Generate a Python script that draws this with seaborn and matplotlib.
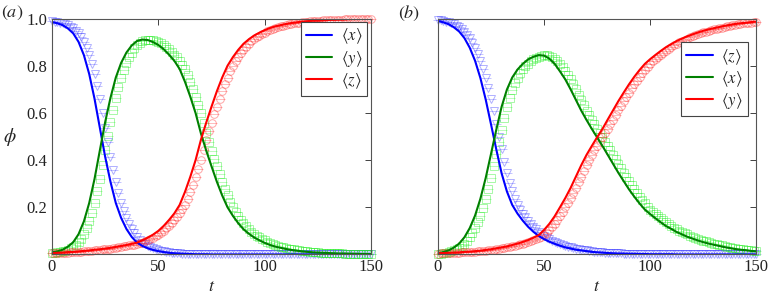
import numpy as np
import matplotlib
matplotlib.use("Agg")
import matplotlib.pyplot as plt
import seaborn as sns

# time grids: model curves every 2.5, simulation points every 1.25
t = np.arange(0, 150.01, 2.5)
t_sim = np.arange(0, 150.01, 1.25)

# ---------- panel (a): model curves ----------
blue_a_line = [0.985, 0.980, 0.972, 0.958, 0.937, 0.901, 0.845, 0.765, 0.660, 0.537,
               0.414, 0.308, 0.218, 0.155, 0.108, 0.074, 0.050, 0.036, 0.026, 0.019,
               0.014, 0.010, 0.007, 0.005, 0.004, 0.003, 0.002, 0.001, 0.001, 0.001,
               0.0, 0.0, 0.0, 0.0, 0.0, 0.0, 0.0, 0.0, 0.0, 0.0,
               0.0, 0.0, 0.0, 0.0, 0.0, 0.0, 0.0, 0.0, 0.0, 0.0,
               0.0, 0.0, 0.0, 0.0, 0.0, 0.0, 0.0, 0.0, 0.0, 0.0, 0.0]
green_a_line = [0.009, 0.013, 0.020, 0.033, 0.052, 0.086, 0.140, 0.218, 0.320, 0.441,
                0.561, 0.664, 0.750, 0.812, 0.856, 0.886, 0.905, 0.911, 0.909, 0.900,
                0.888, 0.870, 0.847, 0.821, 0.786, 0.732, 0.669, 0.599, 0.513, 0.440,
                0.373, 0.308, 0.250, 0.200, 0.164, 0.133, 0.107, 0.088, 0.072, 0.060,
                0.049, 0.040, 0.033, 0.028, 0.023, 0.019, 0.016, 0.013, 0.011, 0.009,
                0.008, 0.007, 0.006, 0.005, 0.004, 0.004, 0.003, 0.003, 0.002, 0.002, 0.001]
red_a_line = [0.006, 0.007, 0.008, 0.010, 0.011, 0.013, 0.015, 0.017, 0.020, 0.022,
              0.025, 0.028, 0.032, 0.036, 0.040, 0.045, 0.050, 0.060, 0.071, 0.084,
              0.100, 0.121, 0.146, 0.174, 0.210, 0.265, 0.329, 0.400, 0.486, 0.559,
              0.627, 0.692, 0.750, 0.800, 0.836, 0.867, 0.893, 0.912, 0.928, 0.940,
              0.951, 0.960, 0.967, 0.972, 0.977, 0.981, 0.984, 0.987, 0.989, 0.991,
              0.992, 0.993, 0.994, 0.995, 0.996, 0.996, 0.997, 0.997, 0.998, 0.998, 0.999]

# ---------- panel (a): simulation points ----------
blue_a_sim = [0.988, 0.987, 0.985, 0.983, 0.980, 0.976, 0.972, 0.966, 0.958, 0.949,
              0.937, 0.921, 0.901, 0.876, 0.845, 0.808, 0.765, 0.715, 0.660, 0.600,
              0.537, 0.475, 0.414, 0.358, 0.308, 0.261, 0.218, 0.184, 0.155, 0.130,
              0.108, 0.090, 0.074, 0.061, 0.050, 0.043, 0.036, 0.031, 0.026, 0.022,
              0.019, 0.016, 0.014, 0.012, 0.010, 0.008, 0.007, 0.006, 0.005, 0.004,
              0.004, 0.003, 0.003, 0.002, 0.002, 0.002, 0.001, 0.001, 0.001, 0.001,
              0.001, 0.001, 0.0, 0.0, 0.0, 0.0, 0.0, 0.0, 0.0, 0.0,
              0.0, 0.0, 0.0, 0.0, 0.0, 0.0, 0.0, 0.0, 0.0, 0.0,
              0.0, 0.0, 0.0, 0.0, 0.0, 0.0, 0.0, 0.0, 0.0, 0.0,
              0.0, 0.0, 0.0, 0.0, 0.0, 0.0, 0.0, 0.0, 0.0, 0.0,
              0.0, 0.0, 0.0, 0.0, 0.0, 0.0, 0.0, 0.0, 0.0, 0.0,
              0.0, 0.0, 0.0, 0.0, 0.0, 0.0, 0.0, 0.0, 0.0, 0.0, 0.0]
green_a_sim = [0.006, 0.007, 0.009, 0.011, 0.013, 0.016, 0.020, 0.026, 0.033, 0.041,
               0.052, 0.067, 0.086, 0.110, 0.140, 0.177, 0.218, 0.267, 0.320, 0.380,
               0.441, 0.502, 0.561, 0.614, 0.664, 0.709, 0.750, 0.783, 0.812, 0.836,
               0.856, 0.873, 0.886, 0.897, 0.905, 0.909, 0.911, 0.911, 0.909, 0.905,
               0.900, 0.895, 0.888, 0.880, 0.870, 0.859, 0.847, 0.835, 0.821, 0.805,
               0.786, 0.761, 0.732, 0.702, 0.669, 0.635, 0.599, 0.556, 0.513, 0.476,
               0.440, 0.406, 0.373, 0.340, 0.308, 0.278, 0.250, 0.224, 0.200, 0.181,
               0.164, 0.148, 0.133, 0.119, 0.107, 0.097, 0.088, 0.080, 0.072, 0.066,
               0.060, 0.054, 0.049, 0.044, 0.040, 0.036, 0.033, 0.030, 0.028, 0.025,
               0.023, 0.021, 0.019, 0.017, 0.016, 0.014, 0.013, 0.012, 0.011, 0.010,
               0.009, 0.008, 0.008, 0.007, 0.007, 0.006, 0.006, 0.005, 0.005, 0.005,
               0.004, 0.004, 0.004, 0.003, 0.003, 0.003, 0.003, 0.002, 0.002, 0.002, 0.002]
red_a_sim = [0.005, 0.0055, 0.006, 0.0065, 0.007, 0.0075, 0.008, 0.009, 0.010, 0.0105,
             0.011, 0.012, 0.013, 0.014, 0.015, 0.016, 0.017, 0.018, 0.020, 0.021,
             0.022, 0.023, 0.025, 0.026, 0.028, 0.030, 0.032, 0.034, 0.036, 0.038,
             0.040, 0.042, 0.045, 0.047, 0.050, 0.055, 0.060, 0.065, 0.071, 0.077,
             0.084, 0.092, 0.100, 0.110, 0.121, 0.133, 0.146, 0.159, 0.174, 0.191,
             0.210, 0.236, 0.265, 0.296, 0.329, 0.364, 0.400, 0.443, 0.486, 0.523,
             0.559, 0.594, 0.627, 0.660, 0.692, 0.722, 0.750, 0.776, 0.800, 0.819,
             0.836, 0.852, 0.867, 0.880, 0.893, 0.903, 0.912, 0.920, 0.928, 0.934,
             0.940, 0.946, 0.951, 0.956, 0.960, 0.964, 0.967, 0.970, 0.972, 0.975,
             0.977, 0.979, 0.981, 0.983, 0.984, 0.986, 0.987, 0.988, 0.989, 0.990,
             0.991, 0.991, 0.992, 0.992, 0.993, 0.993, 0.994, 0.994, 0.995, 0.995,
             0.996, 0.996, 0.996, 0.996, 0.997, 0.997, 0.997, 0.997, 0.998, 0.998, 0.998]

# ---------- panel (b): model curves ----------
blue_b_line = [0.990, 0.984, 0.976, 0.963, 0.945, 0.917, 0.876, 0.821, 0.748, 0.657,
               0.552, 0.445, 0.344, 0.267, 0.210, 0.173, 0.143, 0.117, 0.096, 0.078,
               0.065, 0.054, 0.045, 0.037, 0.030, 0.025, 0.020, 0.017, 0.014, 0.011,
               0.009, 0.008, 0.006, 0.005, 0.004, 0.004, 0.003, 0.003, 0.002, 0.002,
               0.001, 0.001, 0.001, 0.001, 0.001, 0.0, 0.0, 0.0, 0.0, 0.0,
               0.0, 0.0, 0.0, 0.0, 0.0, 0.0, 0.0, 0.0, 0.0, 0.0, 0.0]
green_b_line = [0.005, 0.010, 0.017, 0.029, 0.046, 0.073, 0.112, 0.165, 0.236, 0.324,
                0.426, 0.529, 0.626, 0.699, 0.750, 0.784, 0.808, 0.827, 0.838, 0.845,
                0.843, 0.830, 0.808, 0.776, 0.742, 0.700, 0.655, 0.610, 0.570, 0.532,
                0.496, 0.460, 0.422, 0.384, 0.346, 0.311, 0.276, 0.245, 0.216, 0.190,
                0.171, 0.153, 0.136, 0.120, 0.108, 0.095, 0.085, 0.075, 0.067, 0.059,
                0.052, 0.046, 0.041, 0.036, 0.031, 0.027, 0.023, 0.020, 0.018, 0.015, 0.013]
red_b_line = [0.005, 0.006, 0.007, 0.008, 0.009, 0.011, 0.012, 0.014, 0.016, 0.019,
              0.022, 0.026, 0.030, 0.034, 0.040, 0.046, 0.053, 0.061, 0.071, 0.082,
              0.104, 0.130, 0.162, 0.200, 0.239, 0.282, 0.330, 0.378, 0.422, 0.460,
              0.497, 0.532, 0.572, 0.611, 0.650, 0.686, 0.721, 0.753, 0.782, 0.808,
              0.828, 0.846, 0.863, 0.879, 0.892, 0.905, 0.915, 0.925, 0.933, 0.941,
              0.948, 0.954, 0.959, 0.964, 0.969, 0.973, 0.977, 0.980, 0.982, 0.985, 0.987]

# ---------- panel (b): simulation points ----------
blue_b_sim = [0.993, 0.992, 0.990, 0.987, 0.984, 0.980, 0.976, 0.970, 0.963, 0.955,
              0.945, 0.932, 0.917, 0.898, 0.876, 0.850, 0.821, 0.786, 0.748, 0.704,
              0.657, 0.606, 0.552, 0.498, 0.445, 0.393, 0.344, 0.303, 0.267, 0.237,
              0.210, 0.190, 0.173, 0.157, 0.143, 0.129, 0.117, 0.106, 0.096, 0.087,
              0.078, 0.071, 0.065, 0.059, 0.054, 0.049, 0.045, 0.041, 0.037, 0.033,
              0.030, 0.027, 0.025, 0.022, 0.020, 0.018, 0.017, 0.015, 0.014, 0.012,
              0.011, 0.010, 0.009, 0.008, 0.008, 0.007, 0.006, 0.006, 0.005, 0.005,
              0.004, 0.004, 0.004, 0.003, 0.003, 0.003, 0.003, 0.002, 0.002, 0.002,
              0.002, 0.001, 0.001, 0.001, 0.001, 0.001, 0.001, 0.001, 0.001, 0.001,
              0.001, 0.0, 0.0, 0.0, 0.0, 0.0, 0.0, 0.0, 0.0, 0.0,
              0.0, 0.0, 0.0, 0.0, 0.0, 0.0, 0.0, 0.0, 0.0, 0.0,
              0.0, 0.0, 0.0, 0.0, 0.0, 0.0, 0.0, 0.0, 0.0, 0.0, 0.0]
green_b_sim = [0.003, 0.004, 0.005, 0.007, 0.010, 0.013, 0.017, 0.022, 0.029, 0.037,
               0.046, 0.058, 0.073, 0.091, 0.112, 0.137, 0.165, 0.199, 0.236, 0.279,
               0.324, 0.375, 0.426, 0.478, 0.529, 0.579, 0.626, 0.665, 0.699, 0.727,
               0.750, 0.768, 0.784, 0.797, 0.808, 0.818, 0.827, 0.833, 0.838, 0.842,
               0.845, 0.845, 0.843, 0.838, 0.830, 0.820, 0.808, 0.793, 0.776, 0.759,
               0.742, 0.721, 0.700, 0.678, 0.655, 0.632, 0.610, 0.590, 0.570, 0.551,
               0.532, 0.514, 0.496, 0.478, 0.460, 0.441, 0.422, 0.403, 0.384, 0.365,
               0.346, 0.328, 0.311, 0.293, 0.276, 0.260, 0.245, 0.230, 0.216, 0.203,
               0.190, 0.180, 0.171, 0.162, 0.153, 0.144, 0.136, 0.128, 0.120, 0.114,
               0.108, 0.101, 0.095, 0.090, 0.085, 0.080, 0.075, 0.071, 0.067, 0.063,
               0.059, 0.055, 0.052, 0.049, 0.046, 0.043, 0.041, 0.038, 0.036, 0.033,
               0.031, 0.029, 0.027, 0.025, 0.023, 0.021, 0.020, 0.019, 0.018, 0.016, 0.015]
red_b_sim = [0.004, 0.0045, 0.005, 0.0055, 0.006, 0.0065, 0.007, 0.0075, 0.008, 0.0085,
             0.009, 0.010, 0.011, 0.0115, 0.012, 0.013, 0.014, 0.015, 0.016, 0.0175,
             0.019, 0.0205, 0.022, 0.024, 0.026, 0.028, 0.030, 0.032, 0.034, 0.037,
             0.040, 0.043, 0.046, 0.049, 0.053, 0.057, 0.061, 0.066, 0.071, 0.076,
             0.082, 0.092, 0.104, 0.117, 0.130, 0.146, 0.162, 0.181, 0.200, 0.219,
             0.239, 0.260, 0.282, 0.306, 0.330, 0.354, 0.378, 0.400, 0.422, 0.441,
             0.460, 0.479, 0.497, 0.514, 0.532, 0.552, 0.572, 0.592, 0.611, 0.631,
             0.650, 0.668, 0.686, 0.704, 0.721, 0.737, 0.753, 0.768, 0.782, 0.795,
             0.808, 0.818, 0.828, 0.837, 0.846, 0.855, 0.863, 0.871, 0.879, 0.886,
             0.892, 0.899, 0.905, 0.910, 0.915, 0.920, 0.925, 0.929, 0.933, 0.937,
             0.941, 0.945, 0.948, 0.951, 0.954, 0.957, 0.959, 0.962, 0.964, 0.967,
             0.969, 0.971, 0.973, 0.975, 0.977, 0.979, 0.980, 0.981, 0.982, 0.984, 0.985]

labels_a = [r"$\langle x\rangle$", r"$\langle y\rangle$", r"$\langle z\rangle$"]
labels_b = [r"$\langle z\rangle$", r"$\langle x\rangle$", r"$\langle y\rangle$"]

sns.set_style("white")
plt.rcParams["font.family"] = ["Liberation Serif", "DejaVu Serif"]
plt.rcParams["mathtext.fontset"] = "stix"

line_cols = ["#0000ff", "#008000", "#ff0000"]
mark_cols = ["#3a3aff", "#22ee22", "#ff2020"]
mark_shapes = ["v", "s", "o"]

fig = plt.figure(figsize=(7.71, 2.99), dpi=100)
ax_a = fig.add_axes([0.0674, 0.149, 0.414, 0.789])
ax_b = fig.add_axes([0.568, 0.149, 0.413, 0.789])


def draw_panel(ax, lines, sims, labels, leg_anchor):
    # simulation points: light open symbols with a short bar
    for y, c, m in zip(sims, mark_cols, mark_shapes):
        sns.lineplot(x=t_sim, y=y, ax=ax, linestyle="", marker=m, markersize=5.5,
                     markerfacecolor="none", markeredgecolor=c, markeredgewidth=0.7,
                     alpha=0.4, clip_on=False, errorbar=None, legend=False)
        sns.lineplot(x=t_sim, y=y, ax=ax, linestyle="", marker="_", markersize=7,
                     markeredgecolor=c, markeredgewidth=0.7,
                     alpha=0.3, clip_on=False, errorbar=None, legend=False)
    handles = []
    for y, c in zip(lines, line_cols):
        sns.lineplot(x=t, y=y, ax=ax, color=c, linewidth=1.5, errorbar=None, legend=False)
        handles.append(ax.lines[-1])
    ax.set_xlim(0, 150)
    ax.set_ylim(0, 1)
    ax.set_xticks([0, 50, 100, 150])
    ax.set_yticks([0.2, 0.4, 0.6, 0.8, 1.0])
    ax.tick_params(direction="in", top=True, right=True, length=4, width=0.6,
                   labelsize=12, colors="#222222")
    for s in ax.spines.values():
        s.set_color("#555555")
        s.set_linewidth(0.8)
    ax.set_xlabel(r"$t$", fontsize=13, labelpad=2)
    ax.set_ylabel("")
    leg = ax.legend(handles, labels, loc="upper right", bbox_to_anchor=leg_anchor,
                    borderaxespad=0, fancybox=False, framealpha=1, fontsize=12,
                    handlelength=1.6, handletextpad=0.5, borderpad=0.3,
                    edgecolor="#444444", labelspacing=0.15)
    leg.get_frame().set_linewidth(0.8)


draw_panel(ax_a, [blue_a_line, green_a_line, red_a_line],
           [blue_a_sim, green_a_sim, red_a_sim], labels_a, (0.987, 0.987))
draw_panel(ax_b, [blue_b_line, green_b_line, red_b_line],
           [blue_b_sim, green_b_sim, red_b_sim], labels_b, (0.973, 0.90))
ax_b.set_yticklabels([])

fig.text(10 / 771, 1 - 137 / 299, r"$\phi$", fontsize=14, ha="center", va="center")
fig.text(1 / 771, 1 - 13 / 299, r"$(a)$", fontsize=13, ha="left", va="center")
fig.text(398 / 771, 1 - 13 / 299, r"$(b)$", fontsize=13, ha="left", va="center")

fig.savefig("out.png", dpi=100)
